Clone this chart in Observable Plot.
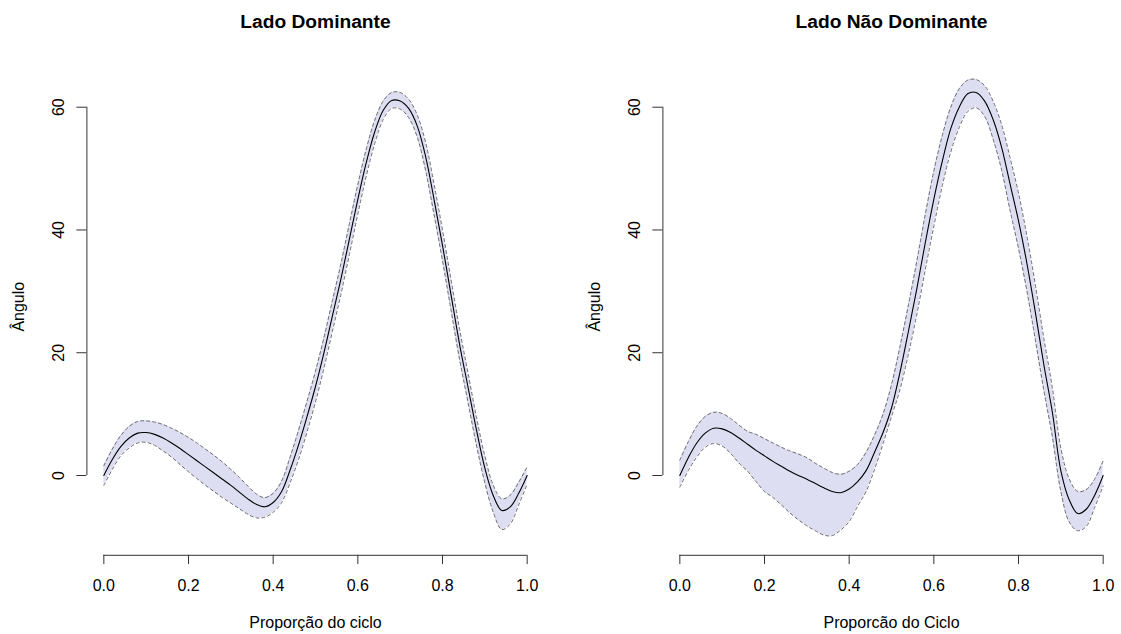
<!DOCTYPE html>
<html><head><meta charset="utf-8">
<script src="https://cdn.jsdelivr.net/npm/d3@7"></script>
<script src="https://cdn.jsdelivr.net/npm/@observablehq/plot@0.6"></script>
<style>
html,body{margin:0;padding:0;background:#fff;overflow:hidden;}
#wrap{position:relative;width:1121px;height:634px;background:#fff;}
#left{position:absolute;left:0;top:0;}
#right{position:absolute;left:576px;top:0;}
</style></head><body><div id="wrap"><div id="left"></div><div id="right"></div></div>
<script>
// Proportion of the cycle
const cycle = [0.00,0.02,0.04,0.06,0.08,0.10,0.12,0.14,0.16,0.18,0.20,0.22,0.24,0.26,0.28,0.30,0.32,0.34,0.36,0.38,0.40,0.42,0.44,0.46,0.48,0.50,0.52,0.54,0.56,0.58,0.60,0.62,0.64,0.66,0.68,0.70,0.72,0.74,0.76,0.78,0.80,0.82,0.84,0.86,0.88,0.90,0.92,0.94,0.96,0.98,1.00];

// Lado Dominante
const domMean  = [0.0,2.6,4.7,6.1,6.9,7.0,6.7,6.1,5.3,4.4,3.4,2.4,1.4,0.4,-0.6,-1.6,-2.7,-3.8,-4.7,-5.1,-4.4,-2.6,0.9,5.0,9.6,14.5,20.0,26.0,32.0,38.5,45.0,51.0,56.0,59.5,61.1,61.0,59.8,57.0,52.0,45.0,37.5,29.5,21.5,14.5,7.5,1.2,-3.3,-5.7,-5.1,-2.9,0.0];
const domUpper = [1.6,4.3,6.5,8.0,8.8,8.9,8.7,8.3,7.7,7.0,6.2,5.3,4.3,3.3,2.2,1.0,-0.3,-1.7,-3.0,-3.6,-2.9,-0.9,3.0,7.4,12.1,17.0,22.5,28.5,34.5,41.0,47.4,53.2,57.9,61.0,62.4,62.4,61.3,58.8,54.3,47.5,40.0,32.0,24.0,16.8,9.6,3.2,-1.6,-3.8,-3.2,-1.1,1.4];
const domLower = [-1.6,1.0,3.2,4.5,5.3,5.4,4.9,4.0,3.0,1.8,0.6,-0.5,-1.6,-2.6,-3.6,-4.5,-5.4,-6.3,-6.9,-6.8,-6.0,-4.4,-1.2,2.6,7.1,12.0,17.5,23.5,29.5,36.0,42.6,48.8,54.1,58.0,59.8,59.7,58.3,55.2,49.7,42.5,35.0,27.0,19.0,12.0,5.0,-1.2,-6.0,-8.8,-7.9,-4.8,-1.4];

// Lado Não Dominante
const ndMean  = [0.0,2.9,5.3,6.9,7.7,7.6,7.0,6.1,5.1,4.1,3.2,2.3,1.5,0.7,0.0,-0.6,-1.3,-2.0,-2.6,-2.8,-2.2,-1.0,0.8,3.8,7.0,11.0,16.8,23.5,30.5,38.0,45.0,51.2,56.5,60.0,62.2,62.4,61.0,58.0,53.5,47.5,41.5,34.5,26.5,18.0,10.3,0.8,-4.0,-6.2,-5.5,-3.2,0.0];
const ndUpper = [2.5,5.5,8.0,9.6,10.3,10.1,9.3,8.2,7.2,6.7,6.0,5.3,4.6,4.0,3.5,2.9,2.0,1.2,0.5,0.2,0.7,1.8,3.8,6.6,10.0,14.8,21.0,27.8,35.0,42.6,49.6,55.4,60.0,63.0,64.4,64.5,63.5,61.0,57.2,51.8,46.0,39.0,31.0,22.3,14.3,4.5,-0.6,-2.6,-2.3,-0.6,2.4];
const ndLower = [-1.9,0.8,3.0,4.6,5.2,4.8,3.6,2.0,0.7,-1.0,-2.6,-3.6,-4.8,-6.1,-7.2,-8.2,-9.0,-9.7,-9.8,-8.9,-7.5,-5.0,-2.6,1.0,5.2,9.6,14.0,19.8,26.3,33.6,40.6,47.2,52.7,56.7,59.3,59.9,58.5,54.8,49.8,43.2,37.0,30.0,22.0,13.8,6.3,-2.6,-7.6,-9.0,-8.3,-5.2,-1.7];

const xTicks = [0, 0.2, 0.4, 0.6, 0.8, 1.0];
const yTicks = [0, 20, 40, 60];

const FONT = "'Liberation Sans', Arial, Helvetica, sans-serif";

function panel(title, xlabel, mean, upper, lower, width, marginRight) {
  const data = cycle.map((x, i) => ({x, m: mean[i], u: upper[i], l: lower[i]}));
  return Plot.plot({
    width, height: 634,
    marginLeft: 86.4, marginRight, marginTop: 57.6, marginBottom: 79.2,
    x: {domain: [-0.04, 1.04]},
    y: {domain: [-13, 68]},
    style: {fontFamily: FONT, fontSize: "16px", color: "#000", background: "#fff", overflow: "visible"},
    marks: [
      Plot.areaY(data, {x: "x", y1: "l", y2: "u", fill: "#dedef3", curve: "catmull-rom"}),
      Plot.lineY(data, {x: "x", y: "u", stroke: "#6a6a6a", strokeWidth: 1, strokeDasharray: "3,3", curve: "catmull-rom"}),
      Plot.lineY(data, {x: "x", y: "l", stroke: "#6a6a6a", strokeWidth: 1, strokeDasharray: "3,3", curve: "catmull-rom"}),
      Plot.lineY(data, {x: "x", y: "m", stroke: "#000", strokeWidth: 1.1, curve: "catmull-rom"}),
      Plot.ruleY([-13], {x1: 0, x2: 1, stroke: "#333"}),
      Plot.ruleX([-0.04], {y1: 0, y2: 60, stroke: "#333"}),
      Plot.axisX({ticks: xTicks, tickSize: 9.3, tickPadding: 15.5, tickFormat: d3.format(".1f"), fontSize: 16, label: null, stroke: "#333"}),
      Plot.axisY({ticks: yTicks, tickSize: 10, tickPadding: 13, tickRotate: -90, fontSize: 16, label: null, stroke: "#333"}),
      Plot.text([title], {text: d => d, frameAnchor: "top", dy: -29.8, lineAnchor: "bottom", fontWeight: "bold", fontSize: 19.2}),
      Plot.text([xlabel], {text: d => d, frameAnchor: "bottom", dy: 72.9, lineAnchor: "bottom", fontSize: 16}),
      Plot.text(["Ângulo"], {text: d => d, frameAnchor: "left", textAnchor: "middle", dx: -63, rotate: -90, lineAnchor: "bottom", fontSize: 16})
    ]
  });
}

document.getElementById("left").appendChild(
  panel("Lado Dominante", "Proporção do ciclo", domMean, domUpper, domLower, 560, 16.4));
document.getElementById("right").appendChild(
  panel("Lado Não Dominante", "Proporcão do Ciclo", ndMean, ndUpper, ndLower, 545, 1.4));
</script>
</body></html>
